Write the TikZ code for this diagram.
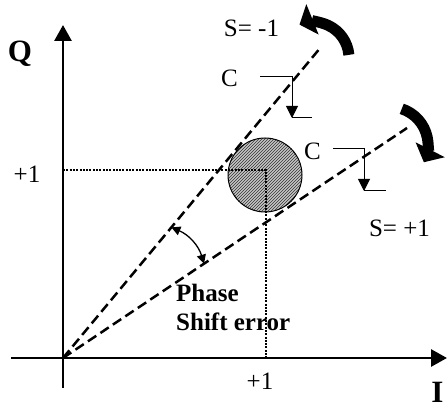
\documentclass[tikz,border=0pt]{standalone}
\usepackage{fontspec}
\setmainfont{Liberation Serif}
\usetikzlibrary{arrows.meta,patterns,calc}

\begin{document}
\begin{tikzpicture}[x=1pt,y=1pt,
  axis/.style={line width=2.8pt, -{Triangle[length=16pt,width=17pt]}},
  lbl/.style={inner sep=0pt, anchor=base, font=\fontsize{25}{29}\selectfont},
  axlbl/.style={inner sep=0pt, anchor=base, font=\fontsize{31}{31}\selectfont\bfseries},
  ray/.style={line width=2.5pt, dash pattern=on 10pt off 5pt},
  guide/.style={line width=2.3pt, dash pattern=on 2pt off 1.3pt},
  brk/.style={line width=1pt},
  turn/.style={line width=11pt, -{Triangle[length=14pt,width=32pt]}}]
\useasboundingbox (0,0) rectangle (448,410);
% axes
\coordinate (O) at (63,52);
\coordinate (Qtop) at (63,385);
\coordinate (Qbot) at (63,22);
\coordinate (Ileft) at (11,52);
\coordinate (Iright) at (447,52);
\draw[axis] (Qbot) -- (Qtop);
\draw[axis] (Ileft) -- (Iright);
\node[axlbl] (Qlbl) at (20,348) {Q};
\node[axlbl] (Ilbl) at (437.5,7) {I};
% received symbol
\node[circle, draw, line width=1pt, minimum size=74pt, inner sep=0pt,
      preaction={fill=gray!45}, pattern=north east lines, pattern color=black!80]
  (spot) at (265,235) {};
\coordinate (one) at (266,240);
\draw[guide] (O |- one) -- (one) -- (one |- O);
\node[lbl] (oneQ) at (27,227) {+1};
\node[lbl] (oneI) at (260,20) {+1};
% rays
\coordinate (U) at (321,363);
\coordinate (L) at (407,282);
\draw[ray] (O) -- (U);
\draw[ray] (O) -- (L);
\path (O) -- (U) coordinate[pos=0.42] (pa);
\path (O) -- (L) coordinate[pos=0.41] (pb);
\draw[line width=1.3pt, {Triangle[length=9pt,width=9pt]}-{Triangle[length=9pt,width=9pt]}]
  (pa) to[bend left=25] (pb);
\node[inner sep=0pt, anchor=north west, align=left,
      font=\fontsize{25}{29}\selectfont\bfseries] (phase) at (176,126)
  {Phase\\Shift error};
% rotation arrows
\coordinate (rotA) at (313,352);
\coordinate (rotB) at (390,265);
\draw[turn] (rotA) ++(5:36) arc[start angle=5, end angle=112, radius=36];
\draw[turn] (rotB) ++(72:38) arc[start angle=72, end angle=-27, radius=38];
\node[lbl] (sneg) at (251.5,373) {S= -1};
\node[lbl] (spos) at (399.5,173) {S= +1};
% C brackets
\node[lbl] (cup) at (229.5,323) {C};
\node[lbl] (clow) at (312.5,250) {C};
\coordinate (c1a) at (260,333);
\coordinate (c1b) at (292,333);
\coordinate (c1c) at (292,292);
\coordinate (c1d) at (312,292);
\draw[brk, -{Triangle[length=12pt,width=12pt]}] (c1a) -- (c1b) -- (c1c);
\draw[brk] (c1c) -- (c1d);
\coordinate (c2a) at (333,261);
\coordinate (c2b) at (364,261);
\coordinate (c2c) at (364,219);
\coordinate (c2d) at (386,219);
\draw[brk, -{Triangle[length=12pt,width=12pt]}] (c2a) -- (c2b) -- (c2c);
\draw[brk] (c2c) -- (c2d);
\end{tikzpicture}
\end{document}
